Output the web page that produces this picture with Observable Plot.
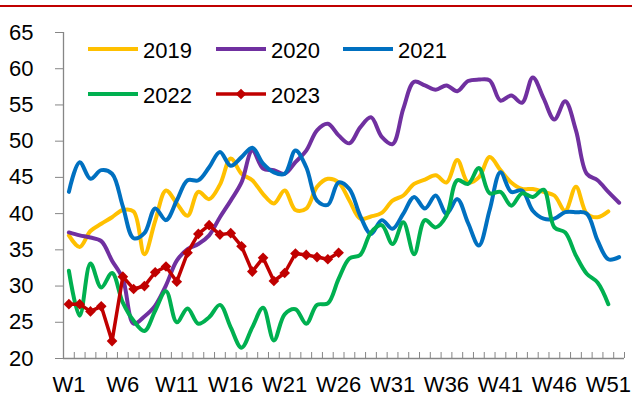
<!DOCTYPE html>
<html><head><meta charset="utf-8">
<script src="https://cdn.jsdelivr.net/npm/d3@7"></script>
<script src="https://cdn.jsdelivr.net/npm/@observablehq/plot@0.6"></script>
<style>
body{margin:0;background:#fff;font-family:"Liberation Sans",Arial,sans-serif;}
#wrap{position:relative;width:632px;height:396px;overflow:hidden;}
#topline{position:absolute;left:0;top:5px;width:632px;height:0;border-top:2px solid #C00000;}
#chart{position:absolute;left:0;top:0;}
#legend{position:absolute;left:0;top:0;}
</style></head><body>
<div id="wrap"><div id="chart"></div><div id="topline"></div></div>
<script>
const seriesNames = ["2019", "2020", "2021", "2022", "2023"];
const seriesColors = ["#FFC000", "#7030A0", "#0070C0", "#00B050", "#C00000"];

const v2019 = [37.0, 35.4, 37.6, 38.6, 39.5, 40.5, 40.3, 34.4, 39.0, 43.2, 41.4, 39.7, 43.0, 42.0, 44.0, 47.6, 45.5, 44.6, 42.7, 41.4, 43.2, 40.5, 40.7, 43.7, 44.8, 44.3, 41.8, 39.3, 39.6, 40.1, 41.8, 42.5, 44.1, 44.7, 45.3, 44.3, 47.4, 44.3, 45.0, 47.8, 46.0, 44.3, 43.4, 43.4, 43.0, 42.5, 40.4, 43.7, 40.0, 39.5, 40.3];
const v2020 = [37.4, 37.0, 36.7, 36.2, 33.5, 31.0, 24.8, 25.8, 27.3, 30.1, 33.5, 35.1, 35.8, 37.0, 39.5, 41.8, 44.3, 48.7, 46.2, 46.0, 45.5, 47.1, 48.7, 51.5, 52.4, 50.8, 49.7, 51.9, 53.3, 50.6, 49.6, 54.5, 58.2, 57.7, 57.1, 57.7, 56.9, 58.3, 58.5, 58.4, 55.6, 56.3, 55.3, 58.8, 55.9, 53.0, 55.5, 51.5, 45.5, 44.6, 43.0, 41.5];
const v2021 = [43.0, 47.1, 44.8, 46.0, 45.5, 41.0, 36.6, 37.3, 40.7, 39.1, 41.8, 44.6, 44.6, 46.4, 48.5, 46.6, 47.8, 49.1, 46.9, 45.7, 45.5, 48.7, 46.4, 41.8, 41.2, 44.3, 43.4, 39.7, 37.2, 39.1, 37.9, 40.0, 42.3, 40.7, 42.5, 40.0, 42.0, 38.7, 35.6, 40.5, 45.7, 43.0, 43.2, 40.4, 39.3, 39.3, 40.2, 40.2, 40.0, 36.3, 33.7, 34.0];
const v2022 = [32.1, 25.9, 33.1, 29.8, 31.8, 27.7, 25.2, 23.8, 26.6, 29.3, 25.0, 26.9, 24.8, 25.7, 27.4, 24.3, 21.5, 24.3, 27.0, 22.5, 26.1, 26.8, 24.8, 27.4, 27.6, 31.0, 33.8, 34.3, 37.4, 38.4, 35.8, 38.8, 34.4, 39.1, 38.1, 39.7, 44.6, 44.1, 46.3, 42.8, 43.0, 41.1, 42.8, 42.3, 43.3, 38.1, 37.4, 34.2, 31.7, 30.5, 27.5];
const v2023 = [27.5, 27.5, 26.5, 27.2, 22.4, 31.3, 29.6, 30.0, 31.9, 32.7, 30.6, 34.6, 37.2, 38.4, 37.1, 37.3, 35.5, 32.0, 33.9, 30.7, 31.8, 34.5, 34.3, 34.0, 33.7, 34.6];

const yTicks = [20, 25, 30, 35, 40, 45, 50, 55, 60, 65];
const xLabelWeeks = [1, 6, 11, 16, 21, 26, 31, 36, 41, 46, 51];
const weekCount = 52;
const weekBounds = d3.range(0, weekCount + 1).map(i => i + 0.5);

const allSeries = [v2019, v2020, v2021, v2022, v2023];
const rows = [];
allSeries.forEach((arr, s) => arr.forEach((v, i) => rows.push({series: seriesNames[s], week: i + 1, value: v})));
const smoothRows = rows.filter(d => d.series !== "2023");
const rows2023 = rows.filter(d => d.series === "2023");

const axisGray = "#868686";

const chart = Plot.plot({
  width: 632,
  height: 396,
  marginTop: 32,
  marginBottom: 38,
  marginLeft: 63,
  marginRight: 8,
  style: {fontFamily: "'Liberation Sans', Arial, sans-serif", fontSize: "22px", color: "#000", background: "#fff"},
  x: {domain: [0.5, weekCount + 0.5], axis: null},
  y: {domain: [yTicks[0], yTicks[yTicks.length - 1]], axis: null},
  color: {domain: seriesNames, range: seriesColors},
  marks: [
    Plot.ruleX([0.5], {stroke: axisGray, strokeWidth: 1.3}),
    Plot.ruleY([yTicks[0]], {stroke: axisGray, strokeWidth: 1.3}),
    Plot.axisY(yTicks, {tickSize: 8, tickPadding: 22, fontSize: 22, stroke: axisGray, fill: "#000", label: null, tickFormat: d => String(d)}),
    Plot.axisX(weekBounds, {tickSize: 6, dy: -6, stroke: axisGray, tickFormat: () => "", label: null}),
    Plot.axisX(xLabelWeeks, {tickSize: 0, tickPadding: 18, fontSize: 22, fill: "#000", label: null, tickFormat: d => "W" + d}),
    Plot.lineY(smoothRows, {x: "week", y: "value", z: "series", stroke: "series", strokeWidth: 4, curve: "catmull-rom"}),
    Plot.lineY(rows2023, {x: "week", y: "value", stroke: "series", strokeWidth: 3.5}),
    Plot.dot(rows2023, {x: "week", y: "value", fill: "series", symbol: "diamond2", r: 4.8, stroke: "none"})
  ]
});
document.getElementById("chart").appendChild(chart);

// legend overlay
const legendPos = [[88, 49], [216, 49], [343, 49], [88, 94], [216, 94]];
const lg = d3.select("#wrap").append("svg").attr("id", "legend").attr("width", 632).attr("height", 396);
seriesNames.forEach((name, i) => {
  const [lx, ly] = legendPos[i];
  lg.append("line").attr("x1", lx).attr("x2", lx + 50).attr("y1", ly).attr("y2", ly)
    .attr("stroke", seriesColors[i]).attr("stroke-width", i === 4 ? 3.5 : 4);
  if (name === "2023") {
    lg.append("path").attr("d", d3.symbol(d3.symbolDiamond2, Math.PI * 4.8 * 4.8)())
      .attr("transform", `translate(${lx + 25},${ly})`).attr("fill", seriesColors[i]);
  }
  lg.append("text").attr("x", lx + 55).attr("y", ly + 8.5).text(name)
    .attr("font-family", "'Liberation Sans', Arial, sans-serif").attr("font-size", 22).attr("fill", "#000");
});
</script>
</body></html>
